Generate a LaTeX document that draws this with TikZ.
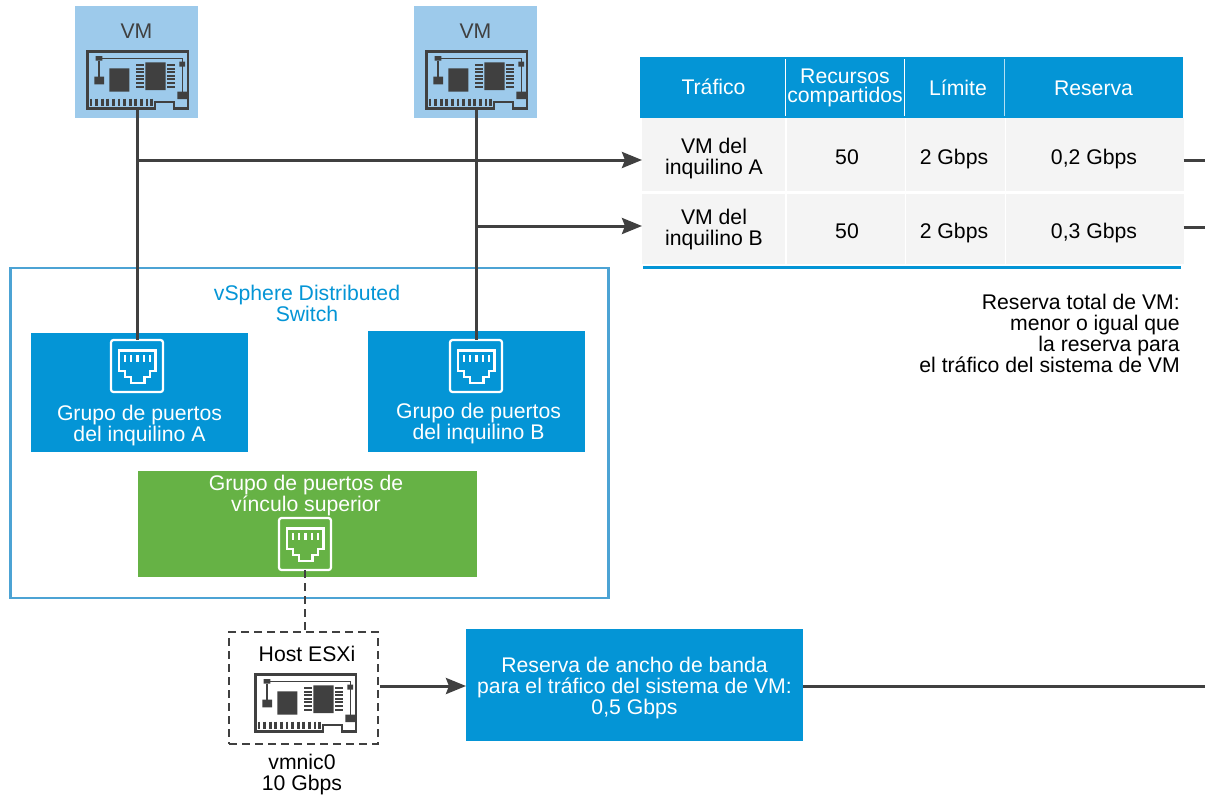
\documentclass[tikz,border=0pt]{standalone}
\usepackage{fontspec}
\setmainfont{Liberation Sans}
\definecolor{vblue}{HTML}{0495D6}
\definecolor{vlight}{HTML}{9DCAEB}
\definecolor{vgreen}{HTML}{66B245}
\definecolor{vdark}{HTML}{404040}
\definecolor{vrow}{HTML}{F4F4F4}
\definecolor{vframe}{HTML}{4CA3D4}
\usetikzlibrary{arrows.meta}
\tikzset{
  x=1pt,y=-1pt,
  txt/.style={font=\fontsize{21.2}{21}\selectfont,align=center,inner sep=0pt,text=black},
  wtxt/.style={txt,text=white},
  gtxt/.style={txt,text=vdark},
  box/.style={draw=none,inner sep=0pt,outer sep=0pt},
  conn/.style={draw=vdark,line width=3pt},
  arr/.style={conn,-{Stealth[length=20pt,width=16pt,inset=3pt]}},
  dashconn/.style={draw=vdark,line width=2.8pt,dash pattern=on 8pt off 5pt},
  nic/.pic={
    \draw[vdark,line width=2.8pt,line join=miter] (0.5,0.5) -- (101,0.5) -- (101,57.5) -- (87,57.5) -- (87,51) -- (68,51) -- (68,57.5) -- (0.5,57.5) -- cycle;
    \fill[vdark] (8.7,5) rectangle (15.3,9.7) (92.3,10.7) rectangle (98,15.7) (90.3,40.7) rectangle (100,48) (7.3,25.7) rectangle (17,33.3) (22.3,17.3) rectangle (42.3,40.7) (58.3,11.3) rectangle (78.7,39);
    \draw[vdark,line width=1.2pt] (15,7.3) -- (95.3,7.3) -- (95.3,41);
    \draw[vdark,line width=1.8pt] (12,9.7) -- (12,26);
    \foreach \yy in {14,17.6,21.2,24.8,28.4,32,35.6} {
      \draw[vdark,line width=2pt] (49,\yy) -- (57,\yy) (80.3,\yy) -- (88,\yy);
    }
    \foreach \xx in {4,9.6,15.2,20.8,26.4,32,37.6,43.2,48.8,54.4,60,64.5} {
      \draw[vdark,line width=2.7pt] (\xx,47.5) -- (\xx,55);
    }
    \coordinate (-s) at (50,58);
    \coordinate (-e) at (101,29);
  },
  port/.pic={
    \draw[white,line width=2.2pt,rounded corners=2.5pt] (-26,-26) rectangle (26,26);
    \draw[white,line width=2.2pt,line join=miter] (-18,-15.5) -- (18.5,-15.5) -- (18.5,5) -- (13,5) -- (13,10.7) -- (7.5,10.7) -- (7.5,17) -- (-6,17) -- (-6,10.7) -- (-12,10.7) -- (-12,5) -- (-18,5) -- cycle;
    \foreach \xx in {-12,-6,0.5,7,13} {
      \draw[white,line width=2.2pt] (\xx,-11) -- (\xx,-4);
    }
    \coordinate (-n) at (0,-26);
    \coordinate (-s) at (0,26);
  },
  cell/.style={txt,fill=vrow,minimum height=#1,outer sep=0pt},
}
\begin{document}
\begin{tikzpicture}
\useasboundingbox (0,0) rectangle (1205,796);
\fill[white] (0,0) rectangle (1205,796);

% VM boxes
\node[box,fill=vlight,minimum width=123,minimum height=112] (vma) at (136.5,62) {};
\node[box,fill=vlight,minimum width=123,minimum height=112] (vmb) at (475.5,62) {};
\node[gtxt] (vmat) at (136.5,31) {VM};
\node[gtxt] (vmbt) at (475.5,31) {VM};
\pic (nica) at (87,51) {nic};
\pic (nicb) at (426,51) {nic};

% Switch
\node[box,draw=vframe,line width=2.5pt,minimum width=598,minimum height=330] (sw) at (309.5,433) {};
\node[txt,text=vblue] (swt) at (307,303.5) {vSphere Distributed\\Switch};

\node[box,fill=vblue,minimum width=217,minimum height=119] (pga) at (139.5,392.5) {};
\node[box,fill=vblue,minimum width=217,minimum height=121] (pgb) at (476.5,391.5) {};
\node[box,fill=vgreen,minimum width=339,minimum height=106] (pgu) at (307.5,524) {};
\pic (pa) at (137,366) {port};
\pic (pb) at (476,366) {port};
\pic (pu) at (305,544) {port};
\node[wtxt] (pgat) at (139.5,425.5) {Grupo de puertos\\del inquilino A};
\node[wtxt] (pgbt) at (478.5,423.5) {Grupo de puertos\\del inquilino B};
\node[wtxt] (pgut) at (306,496) {Grupo de puertos de\\vínculo superior};

% Host
\node[box,draw=vdark,line width=2.8pt,dash pattern=on 8pt off 5pt,minimum width=149,minimum height=112] (host) at (303.5,688) {};
\node[txt] (hostt) at (307,654) {Host ESXi};
\pic (nich) at (255,674) {nic};
\node[txt] (vmn) at (302,774.5) {vmnic0\\10 Gbps};

% Reservation box
\node[box,fill=vblue,minimum width=337,minimum height=112] (res) at (634.5,685) {};
\node[wtxt] (rest) at (634.5,688) {Reserva de ancho de banda\\para el tráfico del sistema de VM:\\0,5 Gbps};

% Table
\node[box,fill=vblue,minimum width=543,minimum height=61] (hdr) at (911.5,87.5) {};
\draw[white,line width=0.8pt] (785.5,59) -- (785.5,116) (904.5,59) -- (904.5,116);
\draw[white!70!vblue,line width=1.2pt] (1004.5,59) -- (1004.5,116);
\node[wtxt] (h1) at (713.5,86.5) {Tráfico};
\node[wtxt,font=\fontsize{21.2}{19}\selectfont] (h2) at (845,88) {Recursos\\compartidos};
\node[wtxt] (h3) at (958,88) {Límite};
\node[wtxt] (h4) at (1093.5,88) {Reserva};

\node[cell=73,minimum width=143] (a1) at (713.5,154.5) {};
\node[cell=73,minimum width=118] (a2) at (845.5,154.5) {};
\node[cell=73,minimum width=99] (a3) at (955,154.5) {};
\node[cell=73,minimum width=178] (a4) at (1094.5,154.5) {};
\node[cell=70,minimum width=143] (b1) at (713.5,229) {};
\node[cell=70,minimum width=118] (b2) at (845.5,229) {};
\node[cell=70,minimum width=99] (b3) at (955,229) {};
\node[cell=70,minimum width=178] (b4) at (1094.5,229) {};
\node[txt] (a1t) at (714,158.5) {VM del\\inquilino A};
\node[txt] (a2t) at (847,157.5) {50};
\node[txt] (a3t) at (954,159.5) {2 Gbps};
\node[txt] (a4t) at (1094,159.5) {0,2 Gbps};
\node[txt] (b1t) at (714,230) {VM del\\inquilino B};
\node[txt] (b2t) at (847,231) {50};
\node[txt] (b3t) at (954,233) {2 Gbps};
\node[txt] (b4t) at (1094,233) {0,3 Gbps};
\coordinate (tl) at (643,267.5);
\coordinate (tr) at (1181,267.5);
\draw[vblue,line width=3pt] (tl) -- (tr);

\node[txt,align=right,anchor=north east,font=\fontsize{21.2}{21.3}\selectfont] (note) at (1180,293.5) {Reserva total de VM:\\menor o igual que\\la reserva para\\el tráfico del sistema de VM};

% Connectors
\draw[conn] (nica-s) -- (pa-n);
\draw[conn] (nicb-s) -- (pb-n);
\coordinate (ja) at (137,160);
\coordinate (jb) at (476,226);
\draw[arr] (ja) -- (a1.west |- ja);
\draw[arr] (jb) -- (b1.west |- jb);
\draw[dashconn] (pu-s) -- (host.north -| pu-s);
\coordinate (hs) at (380,686);
\draw[arr] (hs) -- (res.west |- hs);
\coordinate (ea) at (1205,160);
\coordinate (eb) at (1205,227);
\coordinate (ec) at (1205,686);
\draw[conn] (a4.east |- ea) -- (ea);
\draw[conn] (b4.east |- eb) -- (eb);
\draw[conn] (res.east |- ec) -- (ec);
\end{tikzpicture}
\end{document}
